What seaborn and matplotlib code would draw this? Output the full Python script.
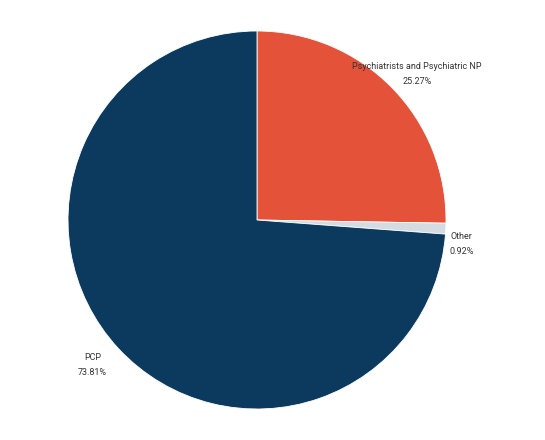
import matplotlib
matplotlib.use("Agg")
import matplotlib.pyplot as plt
import seaborn as sns
import numpy as np

categories = ["Psychiatrists and Psychiatric NP", "Other", "PCP"]
shares = [25.27, 0.92, 73.81]
colors = ["#e4523a", "#d4dbe1", "#0b3a5e"]

sns.set_theme(style="white")
plt.rcParams["font.family"] = ["Roboto", "DejaVu Sans"]

fig = plt.figure(figsize=(5.45, 4.4), dpi=100)
ax = fig.add_axes([68/545, 31/440, 378/545, 378/440])

wedges, texts = ax.pie(shares, colors=colors, startangle=90, counterclock=False,
                       wedgeprops=dict(linewidth=0.6, edgecolor="white"),
                       radius=1.0)
ax.set_xlim(-1, 1)
ax.set_ylim(-1, 1)
ax.set_aspect("equal")
ax.axis("off")

label_r = [1.146, 1.09, 1.16]
angle_adj = [-2.2, -4, -1.5]
for w, cat, val, r, da in zip(wedges, categories, shares, label_r, angle_adj):
    mid = np.deg2rad((w.theta1 + w.theta2) / 2 + da)
    ax.text(r * np.cos(mid), r * np.sin(mid), f"{cat}\n{val:.2f}%",
            ha="center", va="center", fontsize=6.5, color="#333333",
            linespacing=1.9)

fig.savefig("out.png", dpi=100)
